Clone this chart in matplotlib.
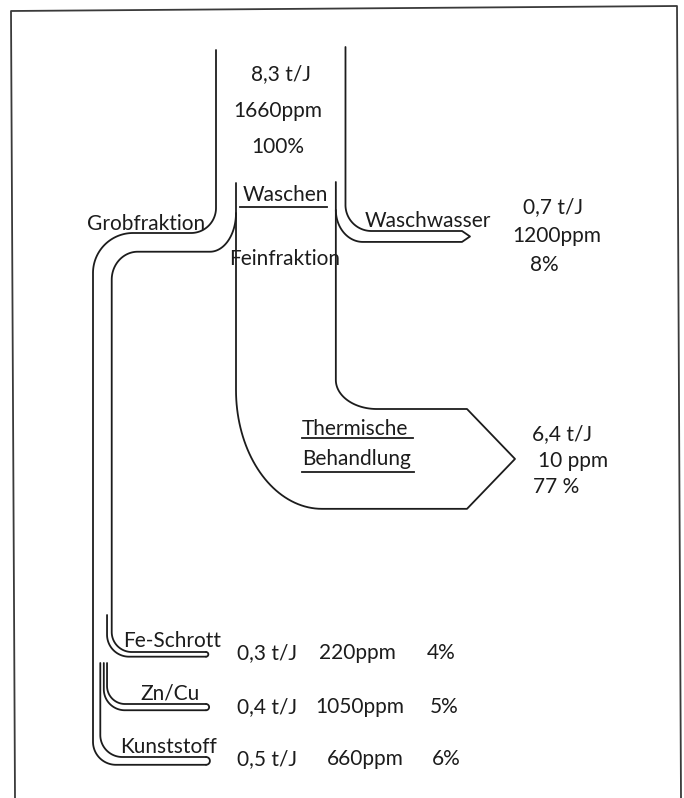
import numpy as np
import matplotlib.pyplot as plt

plt.rcParams["font.family"] = ["Lato", "DejaVu Sans"]

# Mengen in t/J, Konzentration in ppm, Anteil in %
input_mass = 8.3
input_ppm = 1660
input_pct = 100

out_names = ["Waschwasser", "Thermische\nBehandlung", "Fe-Schrott", "Zn/Cu", "Kunststoff"]
out_mass = [0.7, 6.4, 0.3, 0.4, 0.5]
out_ppm = [1200, 10, 220, 1050, 660]
out_pct = [8, 77, 4, 5, 6]

K = 15.6  # Pixel je t/J (Breite der Ströme)
LW = 1.3
INK = "#1c1c1c"


def fmt_mass(m):
    return "{:.1f}".format(m).replace(".", ",")


def arc(cx, cy, rx, ry, a0, a1, n=40):
    # Winkel in Bildschirm-Konvention (y nach unten)
    t = np.deg2rad(np.linspace(a0, a1, n))
    return list(zip(cx + rx * np.cos(t), cy + ry * np.sin(t)))


def draw(ax, pts):
    pts = np.array(pts)
    ax.plot(pts[:, 0], pts[:, 1], color=INK, lw=LW, solid_capstyle="round",
            solid_joinstyle="round")


fig = plt.figure(figsize=(6.84, 7.98), dpi=100)
ax = fig.add_axes([0, 0, 1, 1])
ax.set_xlim(0, 684)
ax.set_ylim(798, 0)
ax.axis("off")

# Rahmen
ax.plot([15, 11, 677, 681], [798, 11, 6, 798], color="#3a3a3a", lw=1.3)

# Breiten aus den Mengen
w_in = input_mass * K
w_ww, w_th, w_fe, w_zn, w_ku = [m * K for m in out_mass]
w_grob = w_fe + w_zn + w_ku

x_in_l = 216
x_in_r = x_in_l + w_in
x_wl = 236
x_wr = x_wl + w_th
x_go = 93
x_gi = x_go + w_grob
y_go = 233
y_gi = y_go + w_grob
y_ww_up = 231
y_ww_lo = y_ww_up + w_ww
y_th_up = 409
y_th_lo = y_th_up + w_th
y_fe_up, y_zn_up, y_ku_up = 652, 704, 757
y_fe_lo, y_zn_lo, y_ku_lo = y_fe_up + w_fe, y_zn_up + w_zn, y_ku_up + w_ku
x_end = 206

# linke Außenlinie: Zulauf -> Grobfraktion -> Kunststoff
p = [(x_in_l, 50), (x_in_l, 208)]
p += arc(x_in_l - 25, 208, 25, y_go - 208, 0, 90)
p += arc(x_go + 40, y_go + 40, 40, 40, 270, 180)
r = 23
p += arc(x_go + r, y_ku_lo - r, r, r, 180, 90)
p += [(x_end, y_ku_lo)]
draw(ax, p)

# Grobfraktion innen -> Fe-Schrott oben
p = arc(210, 213, x_wl - 210, y_gi - 213, 0, 90)
p += arc(x_gi + 26, y_gi + 28, 26, 28, 270, 180)
p += arc(x_gi + 20, y_fe_up - 20, 20, 20, 180, 90)
p += [(x_end, y_fe_up)]
draw(ax, p)

# Fe-Schrott unten
x_fe = x_gi - w_fe
p = [(x_fe, 615)] + arc(x_fe + 22, y_fe_lo - 22, 22, 22, 180, 90) + [(x_end, y_fe_lo)]
draw(ax, p)

# Zn/Cu
x_zu = x_gi - w_fe
x_zl = x_zu - w_zn
p = [(x_zu, 663)] + arc(x_zu + 18, y_zn_up - 18, 18, 18, 180, 90) + [(x_end, y_zn_up)]
draw(ax, p)
p = [(x_zl + 3, 663)] + arc(x_zl + 3 + 21, y_zn_lo - 21, 21, 21, 180, 90) + [(x_end, y_zn_lo)]
draw(ax, p)

# Kunststoff oben
p = [(x_zl - 0.5, 663)] + arc(x_zl - 0.5 + 22, y_ku_up - 22, 22, 22, 180, 90) + [(x_end, y_ku_up)]
draw(ax, p)

# runde Enden
for yu, yl in [(y_fe_up, y_fe_lo), (y_zn_up, y_zn_lo), (y_ku_up, y_ku_lo)]:
    draw(ax, arc(x_end, (yu + yl) / 2, (yl - yu) / 2, (yl - yu) / 2, -90, 90, 20))

# Waschen / Feinfraktion / Thermische Behandlung
p = [(x_wl, 183), (x_wl, 390)]
p += arc(322, 390, 322 - x_wl, y_th_lo - 390, 180, 90)
p += [(467, y_th_lo), (515, (y_th_up + y_th_lo) / 2), (467, y_th_up)]
p += arc(x_wr + 41, y_th_up - 29, 41, 29, 90, 180)
p += [(x_wr, 182)]
draw(ax, p)

# Waschwasser
p = [(x_in_r, 47), (x_in_r, 205)]
p += arc(x_in_r + 26, 205, 26, y_ww_up - 205, 180, 90)
p += [(462, y_ww_up), (470, (y_ww_up + y_ww_lo) / 2), (462, y_ww_lo)]
p += arc(x_wr + 27, 210, 27, y_ww_lo - 210, 90, 180)
draw(ax, p)

# Beschriftung
fs = 15
tkw = dict(fontsize=fs, color=INK, fontweight="normal", va="baseline")

ax.text(281, 80, fmt_mass(input_mass) + " t/J", ha="center", **tkw)
ax.text(278, 117, "{}ppm".format(input_ppm), ha="center", **tkw)
ax.text(278, 153, "{}%".format(input_pct), ha="center", **tkw)

ax.text(285, 201, "Waschen", ha="center", **tkw)
ax.plot([240, 327], [207, 207], color=INK, lw=LW)
ax.text(146, 230, "Grobfraktion", ha="center", **tkw)
ax.text(285, 265, "Feinfraktion", ha="center", **tkw)
ax.text(428, 227, out_names[0], ha="center", **tkw)

# Waschwasser Werte
ax.text(523, 213, fmt_mass(out_mass[0]) + " t/J", ha="left", **tkw)
ax.text(512, 242, "{}ppm".format(out_ppm[0]), ha="left", **tkw)
ax.text(530, 271, "{}%".format(out_pct[0]), ha="left", **tkw)

# Thermische Behandlung
t1, t2 = out_names[1].split("\n")
ax.text(302, 435, t1, ha="left", **tkw)
ax.plot([302, 413], [438, 438], color=INK, lw=LW)
ax.text(302, 465, t2, ha="left", **tkw)
ax.plot([302, 414], [472, 472], color=INK, lw=LW)
ax.text(532, 440, fmt_mass(out_mass[1]) + " t/J", ha="left", **tkw)
ax.text(538, 467, "{} ppm".format(out_ppm[1]), ha="left", **tkw)
ax.text(533, 493, "{} %".format(out_pct[1]), ha="left", **tkw)

# Grobfraktion-Aufteilung
name_x = [123, 140, 120]
name_y = [647, 700, 753]
val_y = [659, 713, 765]
ppm_x = [319, 315, 327]
pct_x = [427, 430, 432]
for i in range(3):
    j = i + 2
    ax.text(name_x[i], name_y[i], out_names[j], ha="left", **tkw)
    ax.text(237, val_y[i], fmt_mass(out_mass[j]) + " t/J", ha="left", **tkw)
    ax.text(ppm_x[i], val_y[i], "{}ppm".format(out_ppm[j]), ha="left", **tkw)
    ax.text(pct_x[i], val_y[i], "{}%".format(out_pct[j]), ha="left", **tkw)

fig.savefig("out.png", dpi=100, facecolor="white")
